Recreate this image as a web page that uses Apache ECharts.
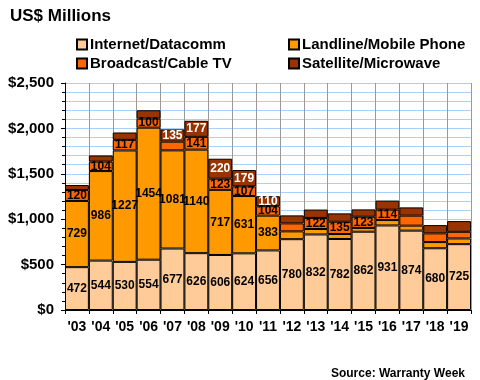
<!DOCTYPE html>
<html>
<head>
<meta charset="utf-8">
<script src="https://cdn.jsdelivr.net/npm/echarts@6/dist/echarts.min.js"></script>
<style>html,body{margin:0;padding:0;background:#fff;}#c{width:480px;height:380px;}</style>
</head>
<body>
<div id="c"></div>
<script>
var years = ["'03","'04","'05","'06","'07","'08","'09","'10","'11","'12","'13","'14","'15","'16","'17","'18","'19"];
var internet  = [472,544,530,554,677,626,606,624,656,780,832,782,862,931,874,680,725];
var landline  = [729,986,1227,1454,1081,1140,717,631,383,86,60,55,42,60,55,68,63];
var broadcast = [120,104,117,100,96,141,123,107,104,88,122,135,123,114,110,96,73];
var satellite = [55,68,81,92,135,177,220,179,110,88,92,92,81,100,91,91,118];
// which values carry a printed label (1 = shown)
var showInternet  = [1,1,1,1,1,1,1,1,1,1,1,1,1,1,1,1,1];
var showLandline  = [1,1,1,1,1,1,1,1,1,0,0,0,0,0,0,0,0];
var showBroadcast = [1,1,1,1,0,1,1,1,1,0,1,1,1,1,0,0,0];
var showSatellite = [0,0,0,0,1,1,1,1,1,0,0,0,0,0,0,0,0];
var yTicks = ['$0','$500','$1,000','$1,500','$2,000','$2,500'];

var FONT = '"Liberation Sans", Arial, sans-serif';
function items(vals, show){
  return vals.map(function(v,i){ return {value:v, label:{show: !!show[i]}}; });
}
function mk(name, vals, show, color, txt){
  return {
    name:name, type:'bar', stack:'s', barWidth:'100%', barCategoryGap:'0%',
    itemStyle:{color:color, borderColor:'#000', borderWidth:1},
    label:{position:'inside', color:txt, fontFamily:FONT, fontWeight:'bold', fontSize:12},
    emphasis:{disabled:true},
    data: items(vals, show)
  };
}
var chart = echarts.init(document.getElementById('c'), null, {renderer:'canvas'});
chart.setOption({
  animation:false,
  title:[
    {text:'US$ Millions', left:5, top:3, textStyle:{fontFamily:FONT, fontWeight:'bold', fontSize:17, color:'#000'}},
    {text:'Source: Warranty Week', right:10, top:363, textStyle:{fontFamily:FONT, fontWeight:'bold', fontSize:12, color:'#000'}}
  ],
  legend:[
    {data:['Internet/Datacomm','Broadcast/Cable TV'], orient:'vertical', left:71, top:32, itemGap:4,
     itemWidth:10, itemHeight:10, icon:'rect',
     textStyle:{fontFamily:FONT, fontWeight:'bold', fontSize:15, color:'#000', padding:[0,0,0,-2]}},
    {data:['Landline/Mobile Phone','Satellite/Microwave'], orient:'vertical', left:283, top:32, itemGap:4,
     itemWidth:10, itemHeight:10, icon:'rect',
     textStyle:{fontFamily:FONT, fontWeight:'bold', fontSize:15, color:'#000', padding:[0,0,0,-2]}}
  ],
  grid:{left:65, right:9, top:83, bottom:70, containLabel:false},
  xAxis:{
    type:'category', data:years, boundaryGap:true,
    axisLine:{lineStyle:{color:'#000', width:1}},
    axisTick:{show:true, length:4, lineStyle:{color:'#000'}},
    axisLabel:{fontFamily:FONT, fontWeight:'bold', fontSize:14, color:'#000', margin:10, interval:0},
    splitLine:{show:true, lineStyle:{color:'#999', width:1}}
  },
  yAxis:{
    type:'value', min:0, max:2500, interval:500,
    axisLine:{show:true, lineStyle:{color:'#000', width:1}},
    axisTick:{show:true, length:4, lineStyle:{color:'#000'}},
    minorTick:{show:true, splitNumber:5, length:3, lineStyle:{color:'#000'}},
    axisLabel:{fontFamily:FONT, fontWeight:'bold', fontSize:15, color:'#000', margin:11,
      formatter:function(v){ return yTicks[Math.round(v/500)]; }},
    splitLine:{show:true, lineStyle:{color:'#a8d0f8', width:1}},
    minorSplitLine:{show:true, lineStyle:{color:'#a8d0f8', width:1}}
  },
  series:[
    mk('Internet/Datacomm', internet, showInternet, '#FFCC99', '#000'),
    mk('Landline/Mobile Phone', landline, showLandline, '#FF9900', '#000'),
    mk('Broadcast/Cable TV', broadcast, showBroadcast, '#FF6600', '#000'),
    mk('Satellite/Microwave', satellite, showSatellite, '#993300', '#fff')
  ]
});
</script>
</body>
</html>
